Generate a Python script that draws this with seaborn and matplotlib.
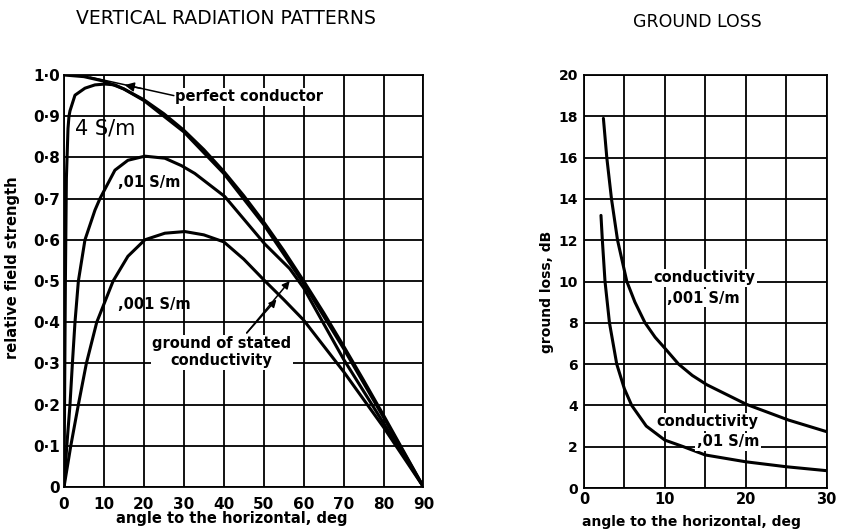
import numpy as np
import pandas as pd
import matplotlib
matplotlib.use("Agg")
import matplotlib.pyplot as plt
import seaborn as sns

# ---------------- data ----------------
perfect_deg = [0, 5, 10, 15, 20, 25, 30, 35, 40, 45, 50, 55, 60, 65, 70, 75, 80, 85, 90]
perfect_val = [1.0, 0.996, 0.985, 0.966, 0.94, 0.906, 0.866, 0.819, 0.766, 0.707, 0.643,
               0.574, 0.5, 0.423, 0.342, 0.259, 0.174, 0.087, 0.0]

s4_deg = [0, 0.35, 0.6, 1.0, 1.25, 1.5, 2.75, 5.25, 7.75, 10.25, 12.75, 15, 20, 30, 40, 50, 60, 70, 80, 90]
s4_val = [0, 0.5, 0.75, 0.87, 0.9, 0.913, 0.951, 0.968, 0.976, 0.978, 0.976, 0.966, 0.938,
          0.862, 0.761, 0.637, 0.494, 0.336, 0.169, 0]

s01_deg = [0, 0.7, 1.5, 2.1, 2.75, 3.6, 5.25, 7.75, 9.0, 12.75, 16, 20.25, 25.25, 29.4,
           32.75, 40.25, 50.25, 56.5, 60, 70, 80, 90]
s01_val = [0, 0.1, 0.2, 0.3, 0.4, 0.5, 0.6, 0.672, 0.7, 0.769, 0.793, 0.803, 0.798, 0.78,
           0.761, 0.705, 0.59, 0.53, 0.483, 0.31, 0.155, 0]

s001_deg = [0, 1.7, 3.6, 5.6, 8.2, 12.3, 16, 20.25, 25.25, 30.25, 35, 40, 45, 50, 55, 60, 70, 80, 90]
s001_val = [0, 0.1, 0.2, 0.3, 0.4, 0.5, 0.56, 0.6, 0.616, 0.62, 0.612, 0.595, 0.553, 0.503,
            0.455, 0.405, 0.28, 0.145, 0]

g001_deg = [2.4, 2.82, 3.4, 4.15, 5.3, 6.3, 7.55, 8.8, 10, 11.7, 13.4, 15.2, 20.1, 25.3, 30]
g001_db = [17.9, 16, 14, 12, 10, 9, 8, 7.3, 6.77, 6, 5.45, 5, 4.05, 3.29, 2.73]

g01_deg = [2.1, 2.27, 2.6, 3.15, 4.05, 5.0, 5.9, 7.7, 10, 12.3, 15, 20, 25, 30]
g01_db = [13.2, 12, 10, 8, 6, 4.8, 4, 3, 2.32, 2.0, 1.6, 1.27, 1.03, 0.84]

left_yticks = [0, 0.1, 0.2, 0.3, 0.4, 0.5, 0.6, 0.7, 0.8, 0.9, 1.0]
left_ylabels = ["0", "0·1", "0·2", "0·3", "0·4", "0·5", "0·6", "0·7", "0·8", "0·9", "1·0"]
left_xticks = [0, 10, 20, 30, 40, 50, 60, 70, 80, 90]
right_xticks = [0, 10, 20, 30]
right_xminor = [5, 15, 25]
right_yticks = [0, 2, 4, 6, 8, 10, 12, 14, 16, 18, 20]

# ---------------- style ----------------
sns.set_style("white")
plt.rcParams["font.family"] = ["DejaVu Sans"]
plt.rcParams["text.color"] = "black"
plt.rcParams["axes.labelcolor"] = "black"
plt.rcParams["xtick.color"] = "black"
plt.rcParams["ytick.color"] = "black"

fig = plt.figure(figsize=(8.42, 5.31), dpi=100)
W, H = 842, 531
ax1 = fig.add_axes([64 / W, 1 - 487 / H, (423.5 - 64) / W, (487 - 75) / H])
ax2 = fig.add_axes([584 / W, 1 - 488 / H, (826.5 - 584) / W, (488 - 75) / H])

CURVE_LW = 2.2
GRID_LW = 1.3

def draw(ax, x, y):
    df = pd.DataFrame({"x": x, "y": y})
    sns.lineplot(data=df, x="x", y="y", ax=ax, color="black", lw=CURVE_LW,
                 estimator=None, sort=False, zorder=3)

def ftext(px, py, s, **kw):
    fig.text(px / W, 1 - py / H, s, ha="center", va="center", **kw)

# ---------------- left panel ----------------
draw(ax1, perfect_deg, perfect_val)
draw(ax1, s4_deg, s4_val)
draw(ax1, s01_deg, s01_val)
draw(ax1, s001_deg, s001_val)

ax1.set_xlim(0, 90)
ax1.set_ylim(0, 1.0)
ax1.set_xticks(left_xticks)
ax1.set_xticklabels([str(v) for v in left_xticks], fontsize=11, fontweight="bold")
ax1.set_yticks(left_yticks)
ax1.set_yticklabels(left_ylabels, fontsize=11, fontweight="bold")
ax1.tick_params(length=0, pad=3)
ax1.tick_params(axis="x", pad=7)
ax1.grid(True, color="black", lw=GRID_LW)
ax1.set_xlabel("")
ax1.set_ylabel("")
for s in ax1.spines.values():
    s.set_color("black")
    s.set_linewidth(GRID_LW)

ftext(226, 18, "VERTICAL RADIATION PATTERNS", fontsize=13.5)
ftext(232, 519, "angle to the horizontal, deg", fontsize=10.5, fontweight="bold")
ftext(13, 268, "relative field strength", fontsize=10.5, fontweight="bold", rotation=90)

bb = dict(facecolor="white", edgecolor="none", pad=1.0)
ax1.text(27.75, 0.947, "perfect conductor", ha="left", va="center", fontsize=10.5,
         fontweight="bold", bbox=bb, zorder=4)
ax1.plot([27.5, 6.5], [0.950, 0.995], color="black", lw=1.1, zorder=4)
ax1.annotate("", xy=(14.5, 0.977), xytext=(20, 0.966),
             arrowprops=dict(arrowstyle="-|>", color="black", lw=1.1, mutation_scale=14), zorder=4)
ax1.text(2.75, 0.87, "4 S/m", ha="left", va="center", fontsize=15, zorder=4)
ax1.text(13.5, 0.738, ",01 S/m", ha="left", va="center", fontsize=10.5,
         fontweight="bold", zorder=4)
ax1.text(13.5, 0.442, ",001 S/m", ha="left", va="center", fontsize=10.5,
         fontweight="bold", zorder=4)
ax1.text(39.5, 0.327, "ground of stated\nconductivity", ha="center", va="center",
         fontsize=10.5, fontweight="bold", linespacing=1.15, bbox=bb, zorder=4)
for tip in [(53.2, 0.455), (56.5, 0.50)]:
    ax1.annotate("", xy=tip, xytext=(45.75, 0.374),
                 arrowprops=dict(arrowstyle="-|>", color="black", lw=1.1,
                                 mutation_scale=11, shrinkA=0, shrinkB=0), zorder=4)

# ---------------- right panel ----------------
draw(ax2, g001_deg, g001_db)
draw(ax2, g01_deg, g01_db)

ax2.set_xlim(0, 30)
ax2.set_ylim(0, 20)
ax2.set_xticks(right_xticks)
ax2.set_xticks(right_xminor, minor=True)
ax2.set_xticklabels([str(v) for v in right_xticks], fontsize=10.5, fontweight="bold")
ax2.set_yticks(right_yticks)
ax2.set_yticklabels([str(v) for v in right_yticks], fontsize=10, fontweight="bold")
ax2.tick_params(which="both", length=0, pad=4.5)
ax2.tick_params(axis="x", pad=3)
ax2.grid(True, which="both", color="black", lw=GRID_LW)
ax2.set_xlabel("")
ax2.set_ylabel("")
for s in ax2.spines.values():
    s.set_color("black")
    s.set_linewidth(GRID_LW)

ftext(697, 22, "GROUND LOSS", fontsize=12.5)
ftext(691, 522, "angle to the horizontal, deg", fontsize=10, fontweight="bold")
ftext(547, 292, "ground loss, dB", fontsize=10, fontweight="bold", rotation=90)

ax2.text(14.9, 10.17, "conductivity", ha="center", va="center", fontsize=10.5,
         fontweight="bold", bbox=bb, zorder=4)
ax2.text(14.8, 9.2, ",001 S/m", ha="center", va="center", fontsize=10.5,
         fontweight="bold", bbox=bb, zorder=4)
ax2.text(15.25, 3.21, "conductivity", ha="center", va="center", fontsize=10.5,
         fontweight="bold", bbox=bb, zorder=4)
ax2.text(17.8, 2.24, ",01 S/m", ha="center", va="center", fontsize=10.5,
         fontweight="bold", bbox=bb, zorder=4)

fig.savefig("out.png", dpi=100, facecolor="white")
